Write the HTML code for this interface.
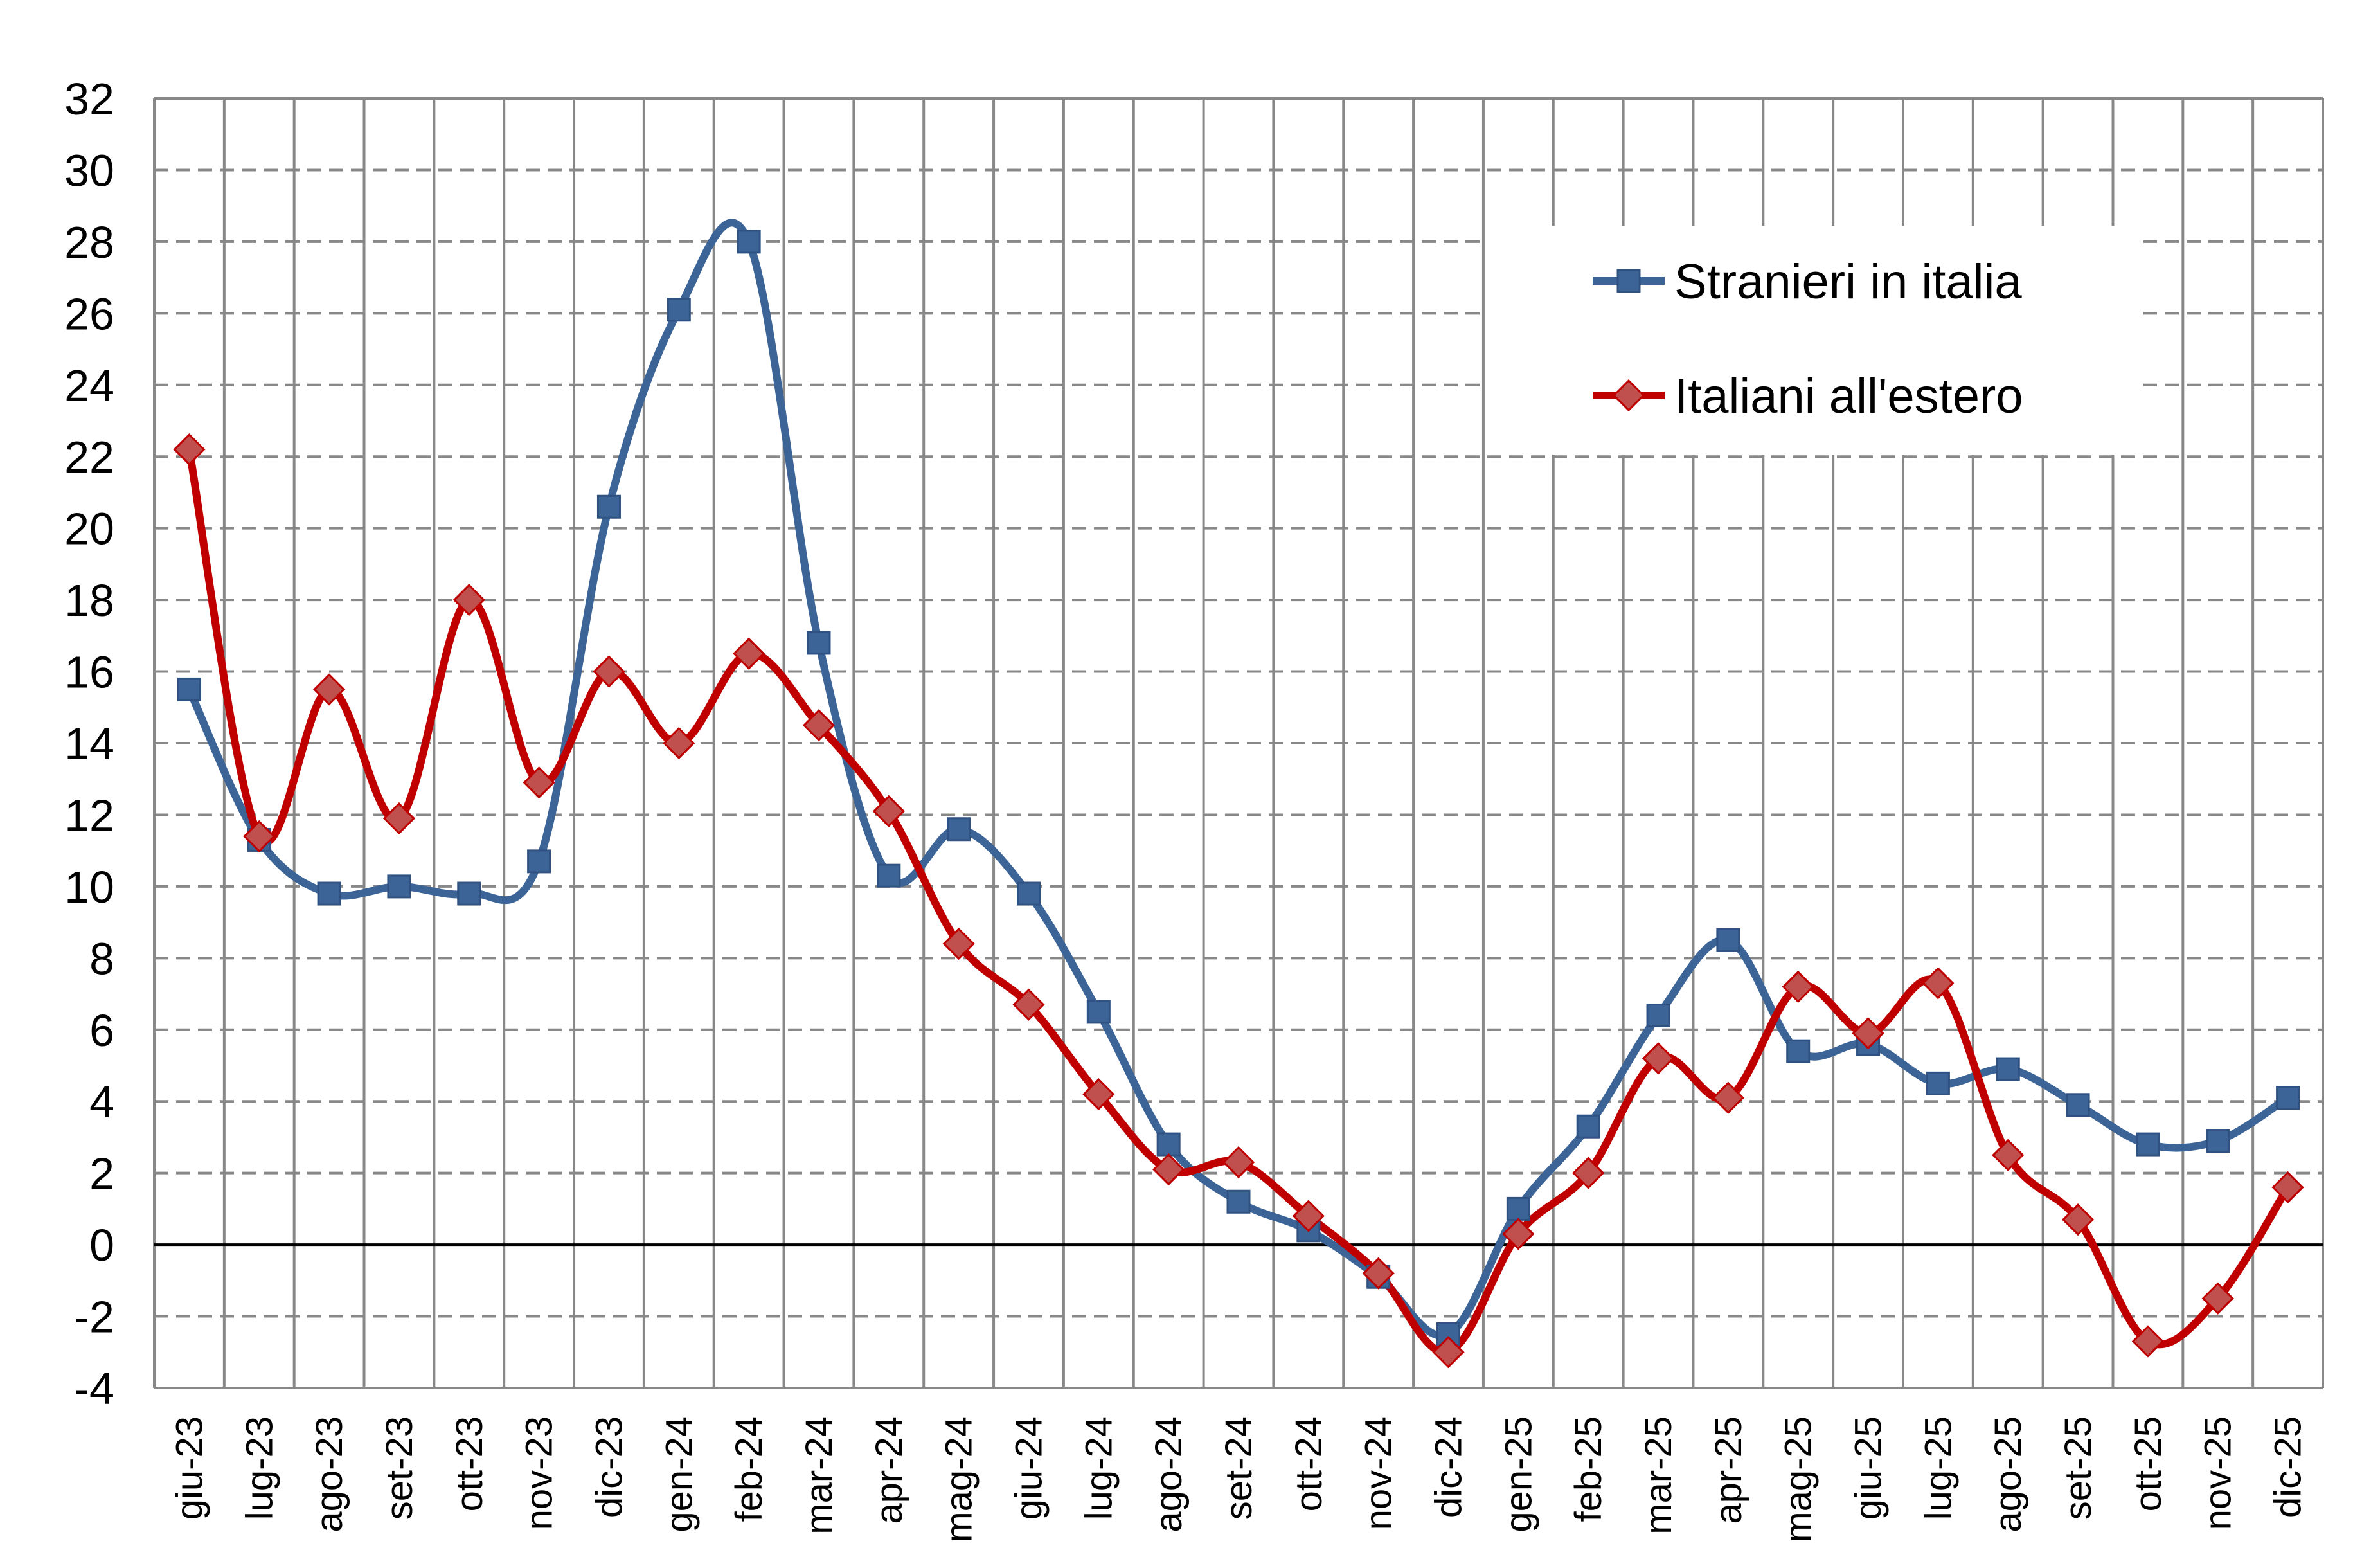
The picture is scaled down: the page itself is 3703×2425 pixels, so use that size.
<!DOCTYPE html>
<html><head><meta charset="utf-8"><style>
html,body{margin:0;padding:0;background:#fff;}
svg{display:block;}
text{font-family:"Liberation Sans",sans-serif;fill:#000;}
</style></head><body>
<svg id="s" width="3703" height="2425" xmlns="http://www.w3.org/2000/svg"></svg>
<script>
const S=document.getElementById('s');
const L=240,R=3614,T=153,B=2159;
const yv=v=>B-(v+4)*(B-T)/36;
const cw=(R-L)/31;
const xc=i=>L+cw*(i+0.5);
let h='';
for(let v=-2;v<=30;v+=2){ if(v===0)continue; h+=`<line x1="${L}" x2="${R}" y1="${yv(v)}" y2="${yv(v)}" stroke="#888" stroke-width="4" stroke-dasharray="22,12"/>`;}
for(let i=0;i<=31;i++){const x=L+cw*i;h+=`<line x1="${x}" x2="${x}" y1="${T}" y2="${B}" stroke="#888" stroke-width="4"/>`;}
h+=`<line x1="${L}" x2="${R}" y1="${T}" y2="${T}" stroke="#888" stroke-width="4"/>`;
h+=`<line x1="${L}" x2="${R}" y1="${B}" y2="${B}" stroke="#888" stroke-width="4"/>`;
h+=`<line x1="${L}" x2="${R}" y1="${yv(0)}" y2="${yv(0)}" stroke="#000" stroke-width="4"/>`;
for(let v=-4;v<=32;v+=2){h+=`<text x="178" y="${yv(v)+25}" font-size="70" text-anchor="end">${v}</text>`;}
const cats=['giu-23','lug-23','ago-23','set-23','ott-23','nov-23','dic-23','gen-24','feb-24','mar-24','apr-24','mag-24','giu-24','lug-24','ago-24','set-24','ott-24','nov-24','dic-24','gen-25','feb-25','mar-25','apr-25','mag-25','giu-25','lug-25','ago-25','set-25','ott-25','nov-25','dic-25'];
cats.forEach((c,i)=>{const x=xc(i)+20;h+=`<text transform="translate(${x},2203) rotate(-90)" font-size="58" text-anchor="end">${c}</text>`;});
h+=`<rect x="2314" y="351" width="1021" height="356" fill="#fff"/>`;
const blue=[15.5,11.3,9.8,10.0,9.8,10.7,20.6,26.1,28.0,16.8,10.3,11.6,9.8,6.5,2.8,1.2,0.4,-0.9,-2.5,1.0,3.3,6.4,8.5,5.4,5.6,4.5,4.9,3.9,2.8,2.9,4.1];
const red=[22.2,11.4,15.5,11.9,18.0,12.9,16.0,14.0,16.5,14.5,12.1,8.4,6.7,4.2,2.1,2.3,0.8,-0.8,-3.0,0.3,2.0,5.2,4.1,7.2,5.9,7.3,2.5,0.7,-2.7,-1.5,1.6];
function path(d){const p=d.map((v,i)=>[xc(i),yv(v)]);let s=`M${p[0][0]},${p[0][1]}`;const t=1/6;
for(let i=0;i<p.length-1;i++){const p0=p[i-1]||p[i],p1=p[i],p2=p[i+1],p3=p[i+2]||p[i+1];
s+=` C${p1[0]+(p2[0]-p0[0])*t},${p1[1]+(p2[1]-p0[1])*t} ${p2[0]-(p3[0]-p1[0])*t},${p2[1]-(p3[1]-p1[1])*t} ${p2[0]},${p2[1]}`;}return s;}
h+=`<path d="${path(blue)}" fill="none" stroke="#3c6497" stroke-width="12"/>`;
h+=`<path d="${path(red)}" fill="none" stroke="#c00000" stroke-width="12"/>`;
const sq=(x,y)=>`<rect x="${x-17}" y="${y-17}" width="34" height="34" fill="#3c6497" stroke="#2f5283" stroke-width="3"/>`;
const di=(x,y)=>`<polygon points="${x},${y-23} ${x+23},${y} ${x},${y+23} ${x-23},${y}" fill="#c0504d" stroke="#c00000" stroke-width="3"/>`;
blue.forEach((v,i)=>h+=sq(xc(i),yv(v)));
red.forEach((v,i)=>h+=di(xc(i),yv(v)));
h+=`<line x1="2478" x2="2590" y1="437" y2="437" stroke="#3c6497" stroke-width="12"/>`+sq(2534,437);
h+=`<text x="2605" y="464" font-size="76">Stranieri in italia</text>`;
h+=`<line x1="2478" x2="2590" y1="615" y2="615" stroke="#c00000" stroke-width="12"/>`+di(2534,615);
h+=`<text x="2605" y="642" font-size="76">Italiani all'estero</text>`;
S.innerHTML=h;
</script>
</body></html>
